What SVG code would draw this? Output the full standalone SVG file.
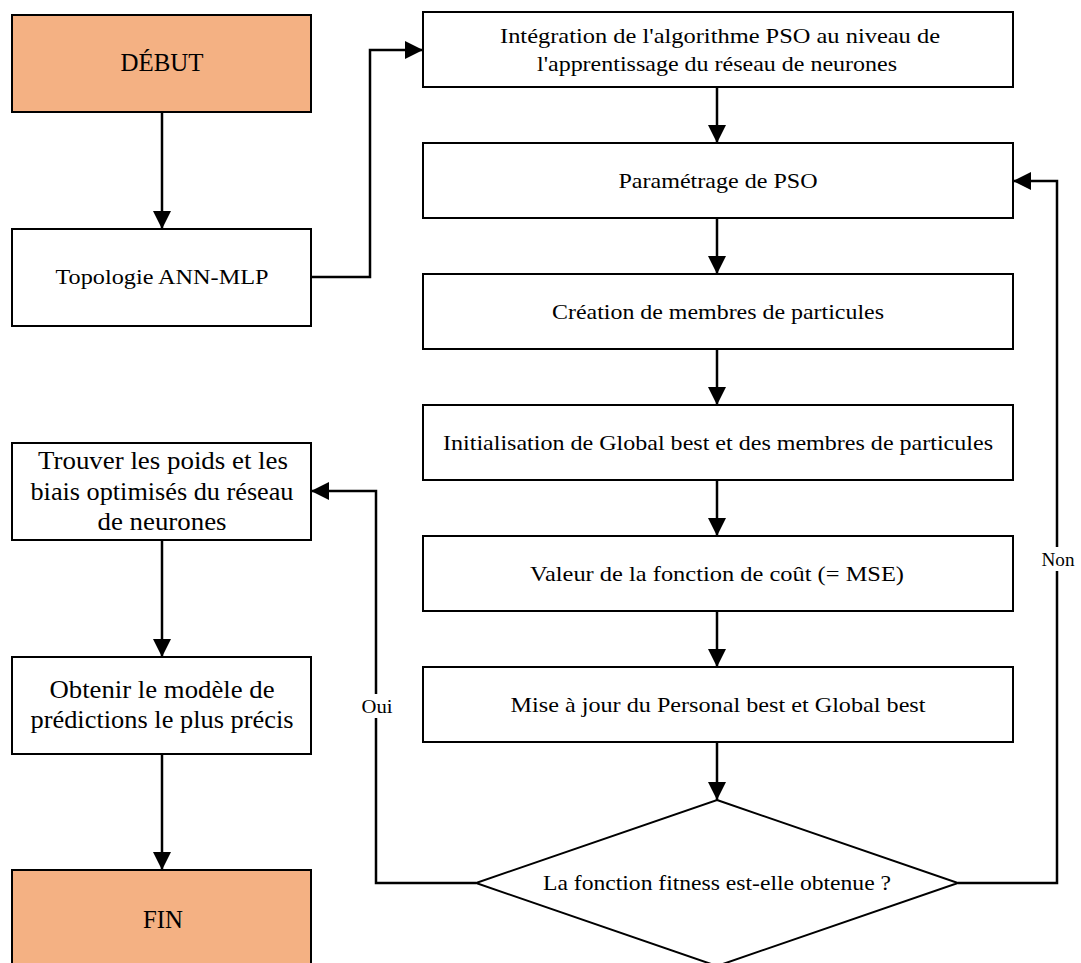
<svg xmlns="http://www.w3.org/2000/svg" width="1081" height="963" viewBox="0 0 1081 963">
<style>
.box{fill:#fff;stroke:#000;stroke-width:2}
.term{fill:#F4B183;stroke:#000;stroke-width:2}
.t{font-family:"Liberation Serif","Times New Roman",serif;font-size:22px;fill:#000;text-anchor:middle}
.tl{font-family:"Liberation Serif","Times New Roman",serif;font-size:25px;fill:#000;text-anchor:middle}
.lbl{font-family:"Liberation Serif","Times New Roman",serif;font-size:18px;fill:#000;text-anchor:middle}
.c{fill:none;stroke:#000;stroke-width:2.5}
</style>
<defs>
<marker id="ah" markerUnits="userSpaceOnUse" markerWidth="18" markerHeight="18" refX="18" refY="9" orient="auto">
<path d="M0,0 L18,9 L0,18 z" fill="#000"/>
</marker>
</defs>
<rect width="1081" height="963" fill="#fff"/>
<g id="connectors">
<path class="c" d="M162,112 V229" marker-end="url(#ah)"/>
<path class="c" d="M311,277 H370 V50 H423" marker-end="url(#ah)"/>
<path class="c" d="M717,87 V143" marker-end="url(#ah)"/>
<path class="c" d="M717,218 V274" marker-end="url(#ah)"/>
<path class="c" d="M717,349 V405" marker-end="url(#ah)"/>
<path class="c" d="M717,480 V536" marker-end="url(#ah)"/>
<path class="c" d="M717,611 V667" marker-end="url(#ah)"/>
<path class="c" d="M717,742 V800" marker-end="url(#ah)"/>
<path class="c" d="M958,883 H1057 V181 H1013" marker-end="url(#ah)"/>
<path class="c" d="M476,883 H376 V491 H311" marker-end="url(#ah)"/>
<path class="c" d="M162,540 V657" marker-end="url(#ah)"/>
<path class="c" d="M162,754 V870" marker-end="url(#ah)"/>
<rect x="360" y="694" width="36" height="24" fill="#fff"/>
<text class="lbl" x="377" y="713" textLength="31" lengthAdjust="spacingAndGlyphs">Oui</text>
<rect x="1040" y="547" width="37" height="24" fill="#fff"/>
<text class="lbl" x="1058" y="566" textLength="33" lengthAdjust="spacingAndGlyphs">Non</text>
</g>
<g id="debut"><rect class="term" x="12" y="15" width="299" height="97"/><text class="tl" x="162" y="71" textLength="83" lengthAdjust="spacingAndGlyphs">DÉBUT</text></g>
<g id="topologie"><rect class="box" x="12" y="229" width="299" height="97"/><text class="t" x="162" y="284" textLength="213" lengthAdjust="spacingAndGlyphs">Topologie ANN-MLP</text></g>
<g id="trouver"><rect class="box" x="12" y="443" width="299" height="97"/>
<text class="tl" x="163" y="469" textLength="250" lengthAdjust="spacingAndGlyphs">Trouver les poids et les</text>
<text class="tl" x="162" y="500" textLength="263" lengthAdjust="spacingAndGlyphs">biais optimisés du réseau</text>
<text class="tl" x="162" y="530" textLength="129" lengthAdjust="spacingAndGlyphs">de neurones</text></g>
<g id="obtenir"><rect class="box" x="12" y="657" width="299" height="97"/>
<text class="tl" x="162" y="698" textLength="225" lengthAdjust="spacingAndGlyphs">Obtenir le modèle de</text>
<text class="tl" x="162" y="728" textLength="263" lengthAdjust="spacingAndGlyphs">prédictions le plus précis</text></g>
<g id="fin"><rect class="term" x="12" y="870" width="299" height="97"/><text class="tl" x="163" y="928" textLength="40" lengthAdjust="spacingAndGlyphs">FIN</text></g>
<g id="integration"><rect class="box" x="423" y="12" width="590" height="75"/>
<text class="t" x="720" y="43" textLength="440" lengthAdjust="spacingAndGlyphs">Intégration de l'algorithme PSO au niveau de</text>
<text class="t" x="717" y="71" textLength="360" lengthAdjust="spacingAndGlyphs">l'apprentissage du réseau de neurones</text></g>
<g id="parametrage"><rect class="box" x="423" y="143" width="590" height="75"/><text class="t" x="718" y="188" textLength="199" lengthAdjust="spacingAndGlyphs">Paramétrage de PSO</text></g>
<g id="creation"><rect class="box" x="423" y="274" width="590" height="75"/><text class="t" x="718" y="319" textLength="332" lengthAdjust="spacingAndGlyphs">Création de membres de particules</text></g>
<g id="initialisation"><rect class="box" x="423" y="405" width="590" height="75"/><text class="t" x="718" y="450" textLength="550" lengthAdjust="spacingAndGlyphs">Initialisation de Global best et des membres de particules</text></g>
<g id="valeur"><rect class="box" x="423" y="536" width="590" height="75"/><text class="t" x="717" y="581" textLength="374" lengthAdjust="spacingAndGlyphs">Valeur de la fonction de coût (= MSE)</text></g>
<g id="miseajour"><rect class="box" x="423" y="667" width="590" height="75"/><text class="t" x="718" y="712" textLength="415" lengthAdjust="spacingAndGlyphs">Mise à jour du Personal best et Global best</text></g>
<g id="decision"><polygon class="box" points="717,800 958,883 717,966 476,883"/><text class="t" x="717" y="890" font-size="20" textLength="348" lengthAdjust="spacingAndGlyphs">La fonction fitness est-elle obtenue ?</text></g>
</svg>
